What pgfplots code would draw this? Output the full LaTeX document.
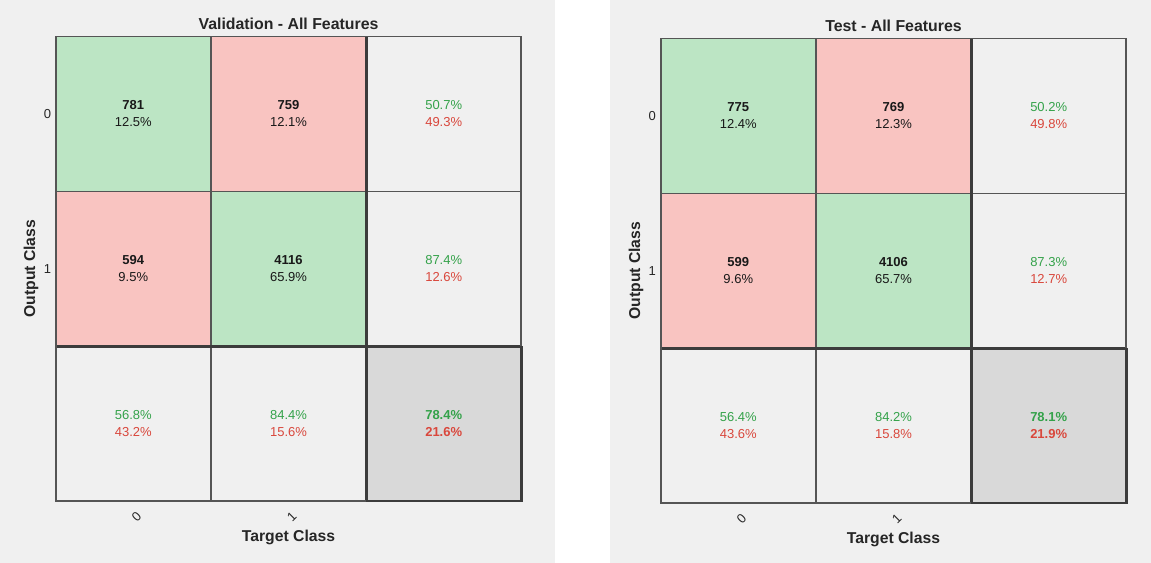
\documentclass[border=0pt]{standalone}
\usepackage{pgfplots}
\pgfplotsset{compat=1.18}
\usepackage{fontspec}
\setmainfont{Liberation Sans}
\definecolor{panelbg}{HTML}{F0F0F0}
\definecolor{cgreen}{HTML}{BCE5C4}
\definecolor{cred}{HTML}{F9C4C1}
\definecolor{cgray}{HTML}{F0F0F0}
\definecolor{csum}{HTML}{D9D9D9}
\definecolor{tgreen}{HTML}{34A24A}
\definecolor{tred}{HTML}{D9473C}
\definecolor{gline}{HTML}{555555}
\definecolor{gdark}{HTML}{3C3C3C}
\newcommand{\cellfont}{\fontsize{9.75}{12.75}\selectfont}
\newcommand{\cellv}[4]{\node[align=center, font=\cellfont, text=black!90] at (axis cs:#1,#2) {\textbf{#3}\\#4\%};}
\newcommand{\cellp}[4]{\node[align=center, font=\cellfont] at (axis cs:#1,#2) {\textcolor{tgreen}{#3\%}\\\textcolor{tred}{#4\%}};}
\newcommand{\cellb}[4]{\node[align=center, font=\cellfont\bfseries] at (axis cs:#1,#2) {\textcolor{tgreen}{#3\%}\\\textcolor{tred}{#4\%}};}
\newcommand{\fillcell}[3]{\addplot[fill=#3, draw=none] coordinates {(#1,#2) (#1+1,#2) (#1+1,#2+1) (#1,#2+1)} -- cycle;}
\pgfplotsset{cm/.style={
  scale only axis, width=349.2pt, height=348.4pt,
  xmin=0, xmax=3, ymin=0, ymax=3,
  axis line style={draw=none}, clip=false,
  xtick={0.5,1.5}, ytick={1.5,2.5},
  xticklabels={0,1}, yticklabels={1,0},
  major tick length=0pt,
  tick label style={font=\fontsize{9.75}{11}\selectfont, text=black!85},
  xticklabel style={yshift=-12pt, xshift=2.5pt, rotate=45, anchor=center},
  every axis title shift=0pt,
  title style={at={(axis description cs:0.5,1.015)}, anchor=base, inner sep=0pt, font=\bfseries\fontsize{11.9}{14}\selectfont, text=black!85},
  xlabel style={at={(axis description cs:0.5,-0.088)}, anchor=base, font=\bfseries\fontsize{11.8}{14}\selectfont, text=black!85},
  ylabel style={at={(axis description cs:-0.053,0.5)}, anchor=center, font=\bfseries\fontsize{11.8}{14}\selectfont, text=black!85},
  xlabel={Target Class}, ylabel={Output Class},
}}
\begin{document}
\begin{tikzpicture}
\fill[white] (0,0) rectangle (863.25pt,422.25pt);
\fill[panelbg] (0,0) rectangle (416.25pt,422.25pt);
\fill[panelbg] (457.5pt,0) rectangle (863.25pt,422.25pt);

% ---------- Validation ----------
\begin{axis}[cm, at={(41.775pt,46.5pt)}, anchor=south west, title={Validation - All Features}]
\fillcell{0}{2}{cgreen}
\fillcell{1}{2}{cred}
\fillcell{2}{2}{cgray}
\fillcell{0}{1}{cred}
\fillcell{1}{1}{cgreen}
\fillcell{2}{1}{cgray}
\fillcell{0}{0}{cgray}
\fillcell{1}{0}{cgray}
\fillcell{2}{0}{csum}
\addplot[draw=gline, line width=1.2pt] coordinates {(1,0) (1,3)};
\addplot[draw=gline, line width=1.2pt] coordinates {(0,2) (3,2)};
\addplot[draw=gdark, line width=2.2pt] coordinates {(2,0) (2,3)};
\addplot[draw=gdark, line width=2.2pt] coordinates {(0,1) (3,1)};
\addplot[draw=gline, line width=1.4pt] coordinates {(0,0) (3,0) (3,3) (0,3)} -- cycle;
\addplot[draw=gdark, line width=2pt] coordinates {(2,0) (3,0) (3,1)};
\cellv{0.5}{2.5}{781}{12.5}
\cellv{1.5}{2.5}{759}{12.1}
\cellp{2.5}{2.5}{50.7}{49.3}
\cellv{0.5}{1.5}{594}{9.5}
\cellv{1.5}{1.5}{4116}{65.9}
\cellp{2.5}{1.5}{87.4}{12.6}
\cellp{0.5}{0.5}{56.8}{43.2}
\cellp{1.5}{0.5}{84.4}{15.6}
\cellb{2.5}{0.5}{78.4}{21.6}
\end{axis}

% ---------- Test ----------
\begin{axis}[cm, at={(495.5pt,45pt)}, anchor=south west, title={Test - All Features}]
\fillcell{0}{2}{cgreen}
\fillcell{1}{2}{cred}
\fillcell{2}{2}{cgray}
\fillcell{0}{1}{cred}
\fillcell{1}{1}{cgreen}
\fillcell{2}{1}{cgray}
\fillcell{0}{0}{cgray}
\fillcell{1}{0}{cgray}
\fillcell{2}{0}{csum}
\addplot[draw=gline, line width=1.2pt] coordinates {(1,0) (1,3)};
\addplot[draw=gline, line width=1.2pt] coordinates {(0,2) (3,2)};
\addplot[draw=gdark, line width=2.2pt] coordinates {(2,0) (2,3)};
\addplot[draw=gdark, line width=2.2pt] coordinates {(0,1) (3,1)};
\addplot[draw=gline, line width=1.4pt] coordinates {(0,0) (3,0) (3,3) (0,3)} -- cycle;
\addplot[draw=gdark, line width=2pt] coordinates {(2,0) (3,0) (3,1)};
\cellv{0.5}{2.5}{775}{12.4}
\cellv{1.5}{2.5}{769}{12.3}
\cellp{2.5}{2.5}{50.2}{49.8}
\cellv{0.5}{1.5}{599}{9.6}
\cellv{1.5}{1.5}{4106}{65.7}
\cellp{2.5}{1.5}{87.3}{12.7}
\cellp{0.5}{0.5}{56.4}{43.6}
\cellp{1.5}{0.5}{84.2}{15.8}
\cellb{2.5}{0.5}{78.1}{21.9}
\end{axis}
\end{tikzpicture}
\end{document}
